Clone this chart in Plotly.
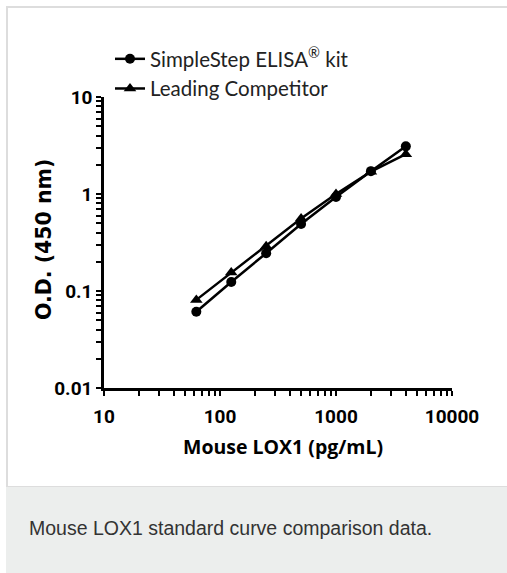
import plotly.graph_objects as go

# Data
concentration = [62.5, 125, 250, 500, 1000, 2000, 4000]
simplestep_od = [0.061, 0.124, 0.245, 0.49, 0.93, 1.72, 3.1]
competitor_od = [0.081, 0.155, 0.29, 0.56, 1.0, 1.7, 2.57]
series_names = ["SimpleStep ELISA<sup>®</sup> kit", "Leading Competitor"]
x_ticks = [10, 100, 1000, 10000]
x_ticklabels = ["10", "100", "1000", "10000"]
y_ticks = [0.01, 0.1, 1, 10]
y_ticklabels = ["0.01", "0.1", "1", "10"]

W, H = 507, 573
L, R, T, B = 104, 452, 97, 388  # plot area in pixels
pw, ph = R - L, B - T

def px(xp):
    return (xp - L) / pw

def py(yp):
    return (B - yp) / ph

def with_minor(majors, labels):
    vals, texts = [], []
    for i, m in enumerate(majors):
        vals.append(m)
        texts.append(labels[i])
        if i < len(majors) - 1:
            for k in range(2, 10):
                vals.append(round(m * k, 6))
                texts.append(" ")
    return vals, texts

xv, xt = with_minor(x_ticks, x_ticklabels)
yv, yt = with_minor(y_ticks, y_ticklabels)

fig = go.Figure()
fig.add_trace(go.Scatter(
    x=concentration, y=simplestep_od, name=series_names[0],
    mode="lines+markers",
    line=dict(color="black", width=2.5),
    marker=dict(symbol="circle", size=10, color="black"),
))
fig.add_trace(go.Scatter(
    x=concentration, y=competitor_od, name=series_names[1],
    mode="lines+markers",
    line=dict(color="black", width=2.5),
    marker=dict(symbol="triangle-up", size=11, color="black"),
))

tickfont = dict(family="Roboto", size=19, color="black", weight="bold")

fig.update_xaxes(
    type="log", range=[1, 4], tickvals=xv, ticktext=xt, tickangle=0,
    showline=True, linecolor="black", linewidth=2.5,
    ticks="outside", ticklen=5, tickwidth=2.2, tickcolor="black",
    showgrid=False, zeroline=False, tickfont=tickfont, ticklabelstandoff=4,
)
fig.update_yaxes(
    type="log", range=[-2, 1], tickvals=yv, ticktext=yt, tickangle=0,
    showline=True, linecolor="black", linewidth=2.5,
    ticks="outside", ticklen=5, tickwidth=2.2, tickcolor="black",
    showgrid=False, zeroline=False, tickfont=tickfont,
)

shapes = [
    dict(type="rect", xref="paper", yref="paper",
         x0=px(7), x1=px(515), y0=py(487), y1=py(7),
         line=dict(color="#dddddd", width=2), fillcolor="white", layer="below"),
    dict(type="rect", xref="paper", yref="paper",
         x0=px(6), x1=px(515), y0=py(580), y1=py(487),
         line=dict(width=0), fillcolor="#eceeed", layer="below"),
]

annotations = [
    dict(text="Mouse LOX1 (pg/mL)", xref="paper", yref="paper",
         x=px(283), y=py(446), xanchor="center", yanchor="middle", showarrow=False,
         font=dict(family="Open Sans", size=19.5, color="black", weight="bold")),
    dict(text="O.D. (450 nm)", xref="paper", yref="paper", textangle=-90,
         x=px(44), y=py(239), xanchor="center", yanchor="middle", showarrow=False,
         font=dict(family="DejaVu Sans", size=20.5, color="black", weight="bold")),
    dict(text="Mouse LOX1 standard curve comparison data.", xref="paper", yref="paper",
         x=px(27), y=py(528), xanchor="left", yanchor="middle", showarrow=False,
         font=dict(family="Liberation Sans", size=19.5, color="#333333")),
]

fig.update_layout(
    width=W, height=H,
    margin=dict(l=L, r=W - R, t=T, b=H - B),
    paper_bgcolor="white", plot_bgcolor="rgba(0,0,0,0)",
    shapes=shapes, annotations=annotations,
    showlegend=True,
    legend=dict(x=px(110), y=py(39), xanchor="left", yanchor="top",
                bgcolor="rgba(0,0,0,0)",
                font=dict(family="Lato", size=20.5, color="#222222"),
                tracegroupgap=0, itemwidth=30),
)

fig.write_html("out.html", config={"displayModeBar": False},
               post_script="document.body.style.margin='0px';")
